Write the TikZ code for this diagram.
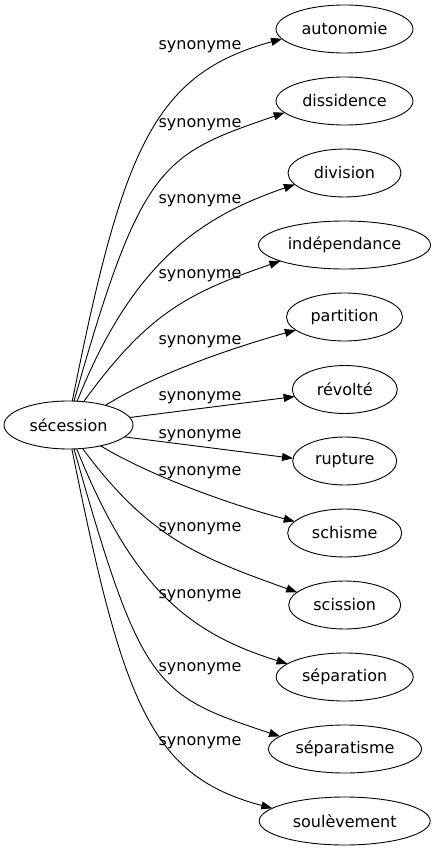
\documentclass[tikz,border=0pt]{standalone}
\usepackage{fontspec}
\setmainfont{DejaVu Sans}
\usetikzlibrary{arrows.meta,shapes.geometric}
\tikzset{
  word/.style={draw=black, line width=0.9pt, ellipse, inner sep=0pt, outer sep=0pt,
    minimum height=48pt, font=\fontsize{16}{19}\selectfont},
  lbl/.style={anchor=base, inner sep=0pt, font=\fontsize{16}{19}\selectfont},
  edge/.style={draw=black, line width=0.9pt, -{Triangle[length=11pt,width=8pt]}}
}
\begin{document}
\begin{tikzpicture}[x=1pt,y=-1pt]
\useasboundingbox (0,0) rectangle (437,851);
\node[word, minimum width=129pt] (sec) at (68.5,425) {sécession};
\node[word, minimum width=137pt] (n1) at (344.5,29) {autonomie};
\node[word, minimum width=137pt] (n2) at (344.5,101) {dissidence};
\node[word, minimum width=113pt] (n3) at (344.5,173) {division};
\node[word, minimum width=172pt] (n4) at (344.5,245) {indépendance};
\node[word, minimum width=116pt] (n5) at (344.5,317) {partition};
\node[word, minimum width=105pt] (n6) at (344.8,389.5) {révolté};
\node[word, minimum width=104pt] (n7) at (344.7,461) {rupture};
\node[word, minimum width=114pt] (n8) at (344.7,533) {schisme};
\node[word, minimum width=112pt] (n9) at (344.7,605) {scission};
\node[word, minimum width=137pt] (n10) at (344.7,677) {séparation};
\node[word, minimum width=153pt] (n11) at (345,749) {séparatisme};
\node[word, minimum width=171pt] (n12) at (344.7,821) {soulèvement};

\node[lbl] (l1) at (200,50) {synonyme};
\node[lbl] (l2) at (200,127) {synonyme};
\node[lbl] (l3) at (200,203) {synonyme};
\node[lbl] (l4) at (200,278) {synonyme};
\node[lbl] (l5) at (200,344) {synonyme};
\node[lbl] (l6) at (200,400) {synonyme};
\node[lbl] (l7) at (200,438) {synonyme};
\node[lbl] (l8) at (200,475) {synonyme};
\node[lbl] (l9) at (200,531) {synonyme};
\node[lbl] (l10) at (200,598) {synonyme};
\node[lbl] (l11) at (200,671.5) {synonyme};
\node[lbl] (l12) at (200,745) {synonyme};

\draw[edge] (sec.81.7) .. controls (123,147) and (154,74) .. (n1.189.7);
\draw[edge] (sec.77) .. controls (141.5,162) and (162,155) .. (n2.191.4);
\draw[edge] (sec.70.3) .. controls (132.5,262.5) and (200,217) .. (n3.193.6);
\draw[edge] (sec.57.6) .. controls (148,313) and (188,293) .. (n4.194.3);
\draw[edge] (sec.28.5) .. controls (157,373) and (237,346.5) .. (n5.195.8);
\draw[edge] (sec.7.5) -- (n6.188.2);
\draw[edge] (sec.-12) -- (n7.177);
\draw[edge] (sec.-33.7) .. controls (152,477) and (235,506) .. (n8.167.7);
\draw[edge] (sec.-59.5) .. controls (148,537) and (198,557) .. (n9.165.6);
\draw[edge] (sec.-71) .. controls (132.5,587.5) and (188,633) .. (n10.167.5);
\draw[edge] (sec.-77) .. controls (141.5,688) and (155,695) .. (n11.169.8);
\draw[edge] (sec.-82.4) .. controls (123,703) and (150,776) .. (n12.170);
\end{tikzpicture}
\end{document}
